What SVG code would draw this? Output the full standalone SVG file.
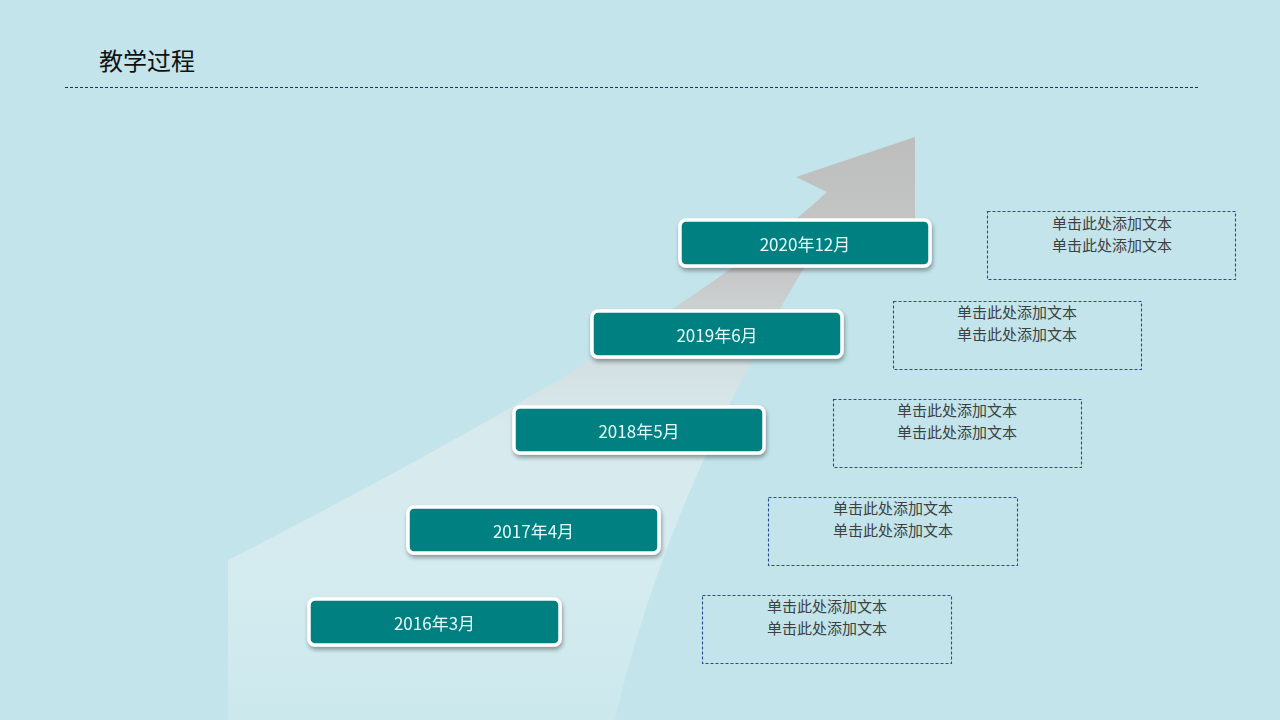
<svg xmlns="http://www.w3.org/2000/svg" width="1280" height="720" viewBox="0 0 1280 720">
<defs>
<linearGradient id="arrowGrad" x1="0" y1="137" x2="0" y2="720" gradientUnits="userSpaceOnUse">
<stop offset="0" stop-color="#bdbdbd" stop-opacity="1"/>
<stop offset="0.25" stop-color="#c8c8c8" stop-opacity="0.95"/>
<stop offset="0.5" stop-color="#e6eef0" stop-opacity="0.6"/>
<stop offset="1" stop-color="#ffffff" stop-opacity="0.15"/>
</linearGradient>
<filter id="sh" x="-10%" y="-30%" width="120%" height="170%">
<feDropShadow dx="1" dy="3" stdDeviation="2" flood-color="#000" flood-opacity="0.35"/>
</filter>
<style>
.date rect{fill:#008080;stroke:#ffffff;stroke-width:3.5}
.date text{font-family:"Noto Sans CJK SC","Noto Sans",sans-serif;font-size:17px;fill:#e6fbfb;text-anchor:middle;dominant-baseline:central}
.note rect{fill:none;stroke:#2a4a96;stroke-width:1.1;stroke-dasharray:3,2}
.note text{font-family:"Noto Sans CJK SC",sans-serif;font-size:15px;fill:#404040;text-anchor:middle}
</style>
</defs>
<rect width="1280" height="720" fill="#c2e4ea"/>
<g id="title">
<text x="99" y="70" font-family="Noto Sans CJK SC, sans-serif" font-size="24" fill="#111">教学过程</text>
<line x1="65" y1="87.5" x2="1200" y2="87.5" stroke="#1f3060" stroke-width="1" stroke-dasharray="3,2"/>
</g>
<g id="arrow">
<path d="M228,560 Q678,330 827,192 L796,177 L915,137 L915,245 L830,225 Q670,480 615,720 L228,720 Z" fill="url(#arrowGrad)"/>
</g>
<g id="connectors"></g>
<g id="d2020" class="date" filter="url(#sh)"><rect x="680" y="220" width="250" height="46" rx="6"/><text x="805" y="243">2020年12月</text></g>
<g id="d2019" class="date" filter="url(#sh)"><rect x="592" y="311" width="250" height="46" rx="6"/><text x="717" y="334">2019年6月</text></g>
<g id="d2018" class="date" filter="url(#sh)"><rect x="514" y="407" width="250" height="46" rx="6"/><text x="639" y="430">2018年5月</text></g>
<g id="d2017" class="date" filter="url(#sh)"><rect x="408" y="507" width="251" height="46" rx="6"/><text x="533.5" y="530">2017年4月</text></g>
<g id="d2016" class="date" filter="url(#sh)"><rect x="309" y="599" width="251" height="46" rx="6"/><text x="434.5" y="622">2016年3月</text></g>
<g id="n1" class="note"><rect x="987.5" y="211.5" width="248" height="68"/><text x="1112" y="229">单击此处添加文本</text><text x="1112" y="251">单击此处添加文本</text></g>
<g id="n2" class="note"><rect x="893.5" y="301.5" width="248" height="68"/><text x="1017" y="318">单击此处添加文本</text><text x="1017" y="340">单击此处添加文本</text></g>
<g id="n3" class="note"><rect x="833.5" y="399.5" width="248" height="68"/><text x="957" y="416">单击此处添加文本</text><text x="957" y="438">单击此处添加文本</text></g>
<g id="n4" class="note"><rect x="768.5" y="497.5" width="249" height="68"/><text x="893" y="514">单击此处添加文本</text><text x="893" y="536">单击此处添加文本</text></g>
<g id="n5" class="note"><rect x="702.5" y="595.5" width="249" height="68"/><text x="827" y="612">单击此处添加文本</text><text x="827" y="634">单击此处添加文本</text></g>
</svg>
